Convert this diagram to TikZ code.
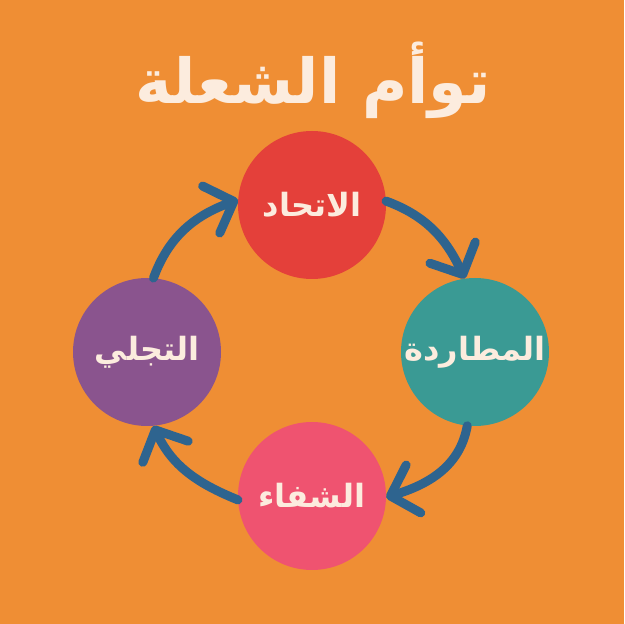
\documentclass[tikz,border=0pt]{standalone}
\usepackage{fontspec}
\usepackage{tikz}
\usetikzlibrary{arrows.meta}
\TeXXeTstate=1
\newfontfamily\arabicfont[Script=Arabic]{DejaVu Sans}
\definecolor{bgorange}{RGB}{239,142,52}
\definecolor{unionred}{RGB}{228,64,58}
\definecolor{chaseteal}{RGB}{58,154,148}
\definecolor{healpink}{RGB}{239,83,112}
\definecolor{risepurple}{RGB}{138,84,142}
\definecolor{flowblue}{RGB}{46,100,143}
\definecolor{cream}{RGB}{252,236,222}
\tikzset{stage/.style={circle, inner sep=0pt, minimum size=148pt,
    text=cream, font=\arabicfont\bfseries\fontsize{32}{38}\selectfont},
  flow/.style={draw=flowblue, line width=9pt, line cap=round,
    -{Straight Barb[length=24pt, width=50pt, round]}}}

\begin{document}
\begin{tikzpicture}[x=1pt, y=1pt]
  \fill[bgorange] (0,0) rectangle (624,624);
  \node (title) [text=cream, anchor=base,
    font=\arabicfont\bfseries\fontsize{62}{74}\selectfont]
    at (313,520) {\beginR توأم الشعلة\endR};

  \node (union) [stage, fill=unionred] at (312,419) {\beginR الاتحاد\endR};
  \node (chase) [stage, fill=chaseteal] at (475,272) {\beginR المطاردة\endR};
  \node (heal) [stage, fill=healpink] at (312,128) {\beginR الشفاء\endR};
  \node (rise) [stage, fill=risepurple] at (147,272) {\beginR التجلي\endR};

  % clockwise cycle
  \draw[flow] (union.3) to[out=-20, in=115] (chase.98);
  \draw[flow] (chase.264) to[out=260, in=17] (heal.-1);
  \draw[flow] (heal.183) to[out=158, in=-65] (rise.275);
  \draw[flow] (rise.85) to[out=70, in=200] (union.176);
\end{tikzpicture}
\end{document}
